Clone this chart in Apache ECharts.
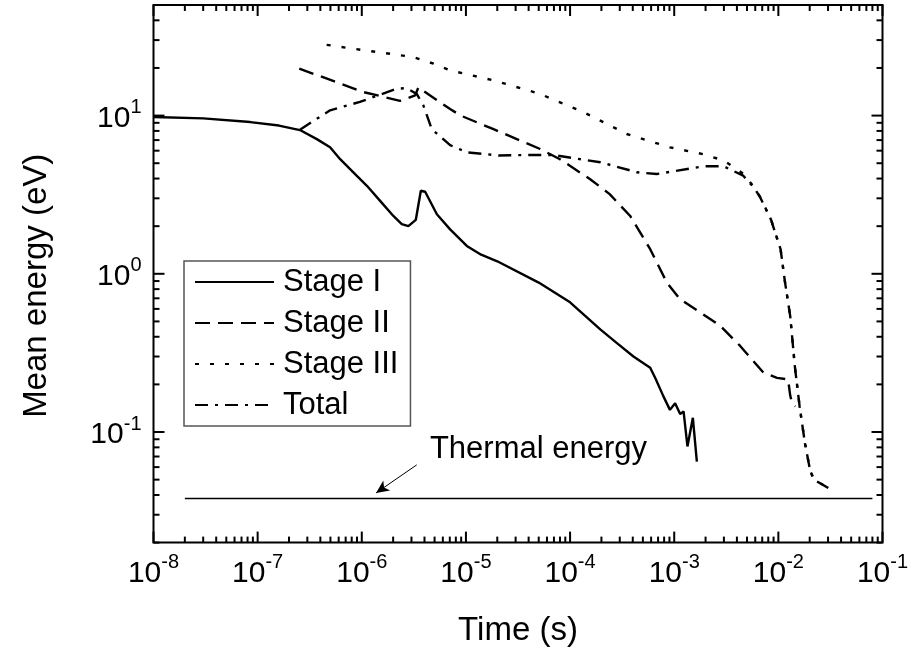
<!DOCTYPE html>
<html>
<head>
<meta charset="utf-8">
<script src="https://cdn.jsdelivr.net/npm/echarts@6/dist/echarts.min.js"></script>
<style>
html,body{margin:0;padding:0;background:#fff;}
#chart{width:913px;height:657px;}
</style>
</head>
<body>
<div id="chart"></div>
<script>
// ---------------- data ----------------
const stage1T = [1e-8, 3e-8, 8.5e-8, 1.6e-7, 2.55e-7, 3.7e-7, 4.96e-7, 6.2e-7, 8.3e-7, 1.12e-6, 1.5e-6, 2.01e-6, 2.42e-6, 2.8e-6, 3.3e-6, 3.69e-6, 4.06e-6, 5.26e-6, 7.05e-6, 1.02e-5, 1.4e-5, 2e-5, 5e-5, 1e-4, 1.95e-4, 2.8e-4, 4.06e-4, 5.88e-4, 6.56e-4, 7.88e-4, 9.1e-4, 1.02e-3, 1.14e-3, 1.23e-3, 1.34e-3, 1.51e-3, 1.65e-3];
const stage1E = [9.8, 9.6, 9.1, 8.65, 8.1, 7.1, 6.3, 5.3, 4.38, 3.6, 2.89, 2.32, 2.06, 2.0, 2.19, 3.35, 3.3, 2.38, 1.91, 1.5, 1.32, 1.2, 0.88, 0.66, 0.445, 0.366, 0.30, 0.255, 0.22, 0.168, 0.138, 0.152, 0.13, 0.135, 0.081, 0.123, 0.065];

const stage2T = [2.51e-7, 5e-7, 1.03e-6, 2.33e-6, 3.25e-6, 3.5e-6, 3.8e-6, 7.05e-6, 8.9e-6, 1.84e-5, 5.16e-5, 8e-5, 1.56e-4, 2.4e-4, 3.78e-4, 5.88e-4, 8.5e-4, 1.14e-3, 1.78e-3, 2.76e-3, 4.3e-3, 7.2e-3, 9.7e-3, 1.24e-2, 1.3e-2, 1.35e-2, 1.45e-2];
const stage2E = [19.8, 16.8, 14.1, 12.4, 13.4, 15.1, 14.5, 11.0, 10.0, 8.2, 6.15, 5.3, 3.96, 3.19, 2.32, 1.43, 0.88, 0.69, 0.57, 0.47, 0.35, 0.237, 0.22, 0.215, 0.17, 0.153, 0.145];

const stage3T = [4.6e-7, 1e-6, 1.87e-6, 3.13e-6, 4.88e-6, 7.05e-6, 1.84e-5, 5.16e-5, 1.35e-4, 3.5e-4, 9.1e-4, 1.91e-3, 2.98e-3, 4.6e-3, 5.8e-3, 6.7e-3, 8.5e-3, 1.05e-2, 1.16e-2, 1.3e-2, 1.44e-2, 1.6e-2, 1.8e-2, 2.02e-2, 2.2e-2, 3.16e-2];
const stage3E = [28, 26, 24.6, 23.4, 21.3, 19.3, 16.7, 13.7, 10.5, 7.65, 6.3, 5.7, 5.2, 4.3, 3.55, 3.05, 2.2, 1.43, 0.88, 0.54, 0.26, 0.145, 0.085, 0.057, 0.05, 0.0435];

const totalT = [2.55e-7, 4.96e-7, 9.6e-7, 2.17e-6, 2.7e-6, 3.37e-6, 3.9e-6, 4.7e-6, 7.05e-6, 1.02e-5, 2.05e-5, 3.85e-5, 6.9e-5, 1.95e-4, 4.4e-4, 6.8e-4, 1.91e-3, 2.98e-3, 4.6e-3, 5.8e-3, 6.7e-3, 8.5e-3, 1.05e-2, 1.16e-2, 1.3e-2, 1.44e-2, 1.6e-2, 1.8e-2, 2.02e-2, 2.2e-2, 3.16e-2];
const totalE = [8.15, 10.8, 12.2, 14.8, 14.9, 13.7, 11.6, 8.2, 6.5, 5.86, 5.6, 5.63, 5.63, 5.07, 4.38, 4.27, 4.78, 4.78, 4.17, 3.52, 3.04, 2.2, 1.43, 0.88, 0.54, 0.26, 0.145, 0.085, 0.057, 0.05, 0.0435];

const thermalT = [2e-8, 8e-2];
const thermalE = [0.038, 0.038];

const seriesNames = ['Stage I', 'Stage II', 'Stage III', 'Total'];
const annotationText = 'Thermal energy';
const arrowFrom = [3.37e-6, 0.062];
const arrowTo = [1.37e-6, 0.0412];
const annotationAt = [4.46e-6, 0.0773];

const xMin = 1e-8, xMax = 1e-1;
const yMin = 0.02, yMax = 50;
const xDecades = [-8, -7, -6, -5, -4, -3, -2, -1];
const yDecades = [-2, -1, 0, 1];

// ---------------- helpers ----------------
const FONT = 'Liberation Sans, Arial, Helvetica, sans-serif';
function pairs(t, e) { return t.map((v, i) => [v, e[i]]); }
function powLabel(v) {
  const e = Math.log10(v);
  const r = Math.round(e);
  if (Math.abs(e - r) > 1e-6) return '';
  return '{b|10}{sup|' + r + '}';
}
const richLabel = {
  b: { fontSize: 30, fontFamily: FONT, color: '#000', lineHeight: 36, verticalAlign: 'bottom' },
  sup: { fontSize: 20, fontFamily: FONT, color: '#000', lineHeight: 20, verticalAlign: 'top' }
};

// tick marks (values only; positions come from the axes via api.coord)
const MAJ = 11, MIN = 6;
const tickData = [];
xDecades.forEach(k => {
  for (let m = 1; m <= 9; m++) {
    const v = m * Math.pow(10, k);
    if (v < xMin * 0.999 || v > xMax * 1.001) continue;
    const L = m === 1 ? MAJ : MIN;
    tickData.push([v, yMin, 0, L]);
    tickData.push([v, yMax, 1, L]);
  }
});
yDecades.forEach(k => {
  for (let m = 1; m <= 9; m++) {
    const v = m * Math.pow(10, k);
    if (v < yMin * 0.999 || v > yMax * 1.001) continue;
    const L = m === 1 ? MAJ : MIN;
    tickData.push([xMin, v, 2, L]);
    tickData.push([xMax, v, 3, L]);
  }
});

const chart = echarts.init(document.getElementById('chart'), null, { renderer: 'canvas' });
const lineW = 2.4;
chart.setOption({
  animation: false,
  backgroundColor: '#fff',
  textStyle: { fontFamily: FONT },
  grid: { left: 153.5, right: 30.5, top: 5, bottom: 114.4, show: true, borderColor: '#000', borderWidth: 2, containLabel: false },
  legend: {
    data: seriesNames,
    orient: 'vertical',
    left: 184,
    top: 261,
    itemWidth: 79,
    itemHeight: 14,
    itemGap: 7,
    padding: [4, 12, 4, 10],
    borderColor: '#555',
    borderWidth: 1.5,
    backgroundColor: '#fff',
    selectedMode: false,
    itemStyle: { opacity: 0, borderWidth: 0 },
    textStyle: { fontSize: 31, fontFamily: FONT, color: '#000', lineHeight: 34, padding: [0, 0, 0, 4] }
  },
  xAxis: {
    type: 'log', logBase: 10, min: xMin, max: xMax,
    name: 'Time (s)', nameLocation: 'middle', nameGap: 72,
    nameTextStyle: { fontSize: 33, fontFamily: FONT, color: '#000' },
    axisLine: { show: false }, axisTick: { show: false }, splitLine: { show: false },
    axisLabel: { formatter: powLabel, rich: richLabel, margin: 10, interval: 0, showMinLabel: true, showMaxLabel: true, hideOverlap: false }
  },
  yAxis: {
    type: 'log', logBase: 10, min: yMin, max: yMax,
    name: 'Mean energy (eV)', nameLocation: 'middle', nameGap: 100,
    nameTextStyle: { fontSize: 33, fontFamily: FONT, color: '#000', padding: [0, 24, 0, 0] },
    axisLine: { show: false }, axisTick: { show: false }, splitLine: { show: false },
    axisLabel: { formatter: powLabel, rich: richLabel, margin: 12, interval: 0, showMinLabel: false, showMaxLabel: false, hideOverlap: false }
  },
  series: [
    { name: 'Stage I', type: 'line', data: pairs(stage1T, stage1E), symbol: 'none', smooth: false,
      lineStyle: { color: '#000', width: lineW, type: 'solid' }, itemStyle: { color: '#000' } },
    { name: 'Stage II', type: 'line', data: pairs(stage2T, stage2E), symbol: 'none',
      lineStyle: { color: '#000', width: lineW, type: [15, 8] }, itemStyle: { color: '#000' } },
    { name: 'Stage III', type: 'line', data: pairs(stage3T, stage3E), symbol: 'none',
      lineStyle: { color: '#000', width: lineW, type: [4, 11] }, itemStyle: { color: '#000' } },
    { name: 'Total', type: 'line', data: pairs(totalT, totalE), symbol: 'none',
      lineStyle: { color: '#000', width: lineW, type: [13, 7, 3, 7] }, itemStyle: { color: '#000' } },
    { name: 'Thermal', type: 'line', data: pairs(thermalT, thermalE), symbol: 'none',
      lineStyle: { color: '#000', width: 1.3 }, itemStyle: { color: '#000' },
      markLine: {
        silent: true, symbol: ['none', 'arrow'], symbolSize: [9, 13],
        lineStyle: { color: '#000', width: 1, type: 'solid' },
        label: { show: false },
        data: [[{ coord: arrowFrom }, { coord: arrowTo }]]
      },
      markPoint: {
        silent: true, symbol: 'circle', symbolSize: 1, itemStyle: { color: 'rgba(0,0,0,0)' },
        label: { show: true, position: 'right', distance: 0, formatter: annotationText, fontSize: 31, fontFamily: FONT, color: '#000' },
        data: [{ coord: annotationAt }]
      }
    },
    { name: 'ticks', type: 'custom', data: tickData, silent: true, clip: false, z: 10,
      renderItem: function (params, api) {
        const p = api.coord([api.value(0), api.value(1)]);
        const d = api.value(2), L = api.value(3);
        let x2 = p[0], y2 = p[1];
        if (d === 0) y2 -= L; else if (d === 1) y2 += L; else if (d === 2) x2 += L; else x2 -= L;
        return { type: 'line', shape: { x1: p[0], y1: p[1], x2: x2, y2: y2 }, style: { stroke: '#000', lineWidth: 2 } };
      }
    }
  ]
});
</script>
</body>
</html>
